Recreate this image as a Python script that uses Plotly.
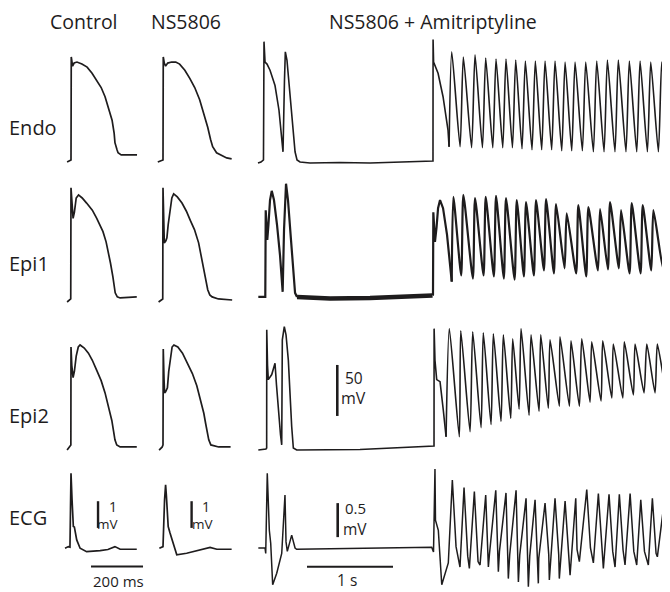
import plotly.graph_objects as go

# page body adds an 8px margin: figure is drawn 8px in from the window corner
OFF = 8
WIN_W, WIN_H = 670, 592
FW, FH = WIN_W - OFF, WIN_H - OFF
INK = "#1e1c1d"
FONT = "Open Sans"

# ---------------- DATA (time in ms from first upstroke, membrane potential in mV / ECG in mV) -------------
# Control
ctrl_endo_t = [-15, -4, 0, 1, 6, 12, 23, 42, 62, 81, 100, 116, 131, 146, 158, 166, 169, 177, 181, 193, 219, 254]
ctrl_endo_v = [-85, -84, -83, 18, 9, 12, 13, 11, 8, 2, -5, -12, -21, -34, -44, -57, -66, -73, -76, -78, -78, -78]
ctrl_epi1_t = [-15, -7, -1, 0, 3, 8, 13, 20, 29, 43, 60, 82, 99, 112, 123, 135, 142, 152, 161, 166, 170, 178, 189, 253]
ctrl_epi1_v = [-86, -84, -83, 26, 9, -4, 2, 16, 19, 16, 11, 4, -4, -11, -17, -27, -35, -48, -61, -71, -77, -81, -82, -81]
ctrl_epi2_t = [-15, -5, -0.5, 0, 3, 8, 13, 20, 28, 35, 51, 67, 82, 99, 116, 131, 144, 157, 164, 169, 176, 189, 253]
ctrl_epi2_v = [-86, -83, -81, 15, -3, -15, -9, 6, 15, 17, 14, 9, 2, -8, -18, -30, -44, -57, -68, -76, -81, -83, -83]
ctrl_ecg_t = [-23, -10, -4, 0, 4, 9, 13, 22, 35, 60, 112, 142, 169, 189, 253]
ctrl_ecg_mv = [0.03, 0.09, 0.07, 2.84, 1.85, 0.84, 0.82, 0.34, 0.03, -0.10, -0.06, -0.02, 0.09, -0.01, -0.01]

# NS5806
ns_endo_t = [-20, -5, 0, 1, 5, 10, 18, 33, 49, 64, 84, 103, 122, 141, 157, 172, 183, 191, 206, 226, 245, 264]
ns_endo_v = [-85, -84, -83, 18, 12, 9, 12, 13, 13, 11, 5, -3, -12, -24, -37, -51, -63, -70, -76, -79, -81, -82]
ns_epi1_t = [-17, -7, -1, 0, 2, 5, 11, 15, 20, 28, 34, 41, 55, 73, 90, 105, 121, 137, 147, 156, 165, 172, 180, 189, 213, 266]
ns_epi1_v = [-86, -84.5, -83, 26, -15, -28, -26, -23, -10, 4, 16, 20, 17, 11, 3, -6, -15, -28, -41, -52, -64, -74, -79, -81, -83, -84]
ns_epi2_t = [-15, -3, 0, 1, 4, 6, 10, 17, 22, 30, 35, 42, 57, 75, 91, 113, 130, 145, 157, 164, 171, 176, 184, 214, 260]
ns_epi2_v = [-86, -83, -81, 13, -17, -30, -29, -25, -9, 9, 15, 17, 15, 9, 1, -11, -23, -37, -50, -60, -70, -76, -81, -83, -83]
ns_ecg_t = [-14, 0, 6, 10, 13, 17, 20, 27, 40, 53, 91, 142, 181, 207, 264]
ns_ecg_mv = [0.03, 0.09, 1.84, 2.4, 2.0, 1.09, 0.84, 0.6, 0.21, -0.22, -0.16, -0.04, 0.06, -0.01, -0.01]

# NS5806 + Amitriptyline : first beats, pause and onset of the arrhythmia
ami_endo_t = [-70, -35, -6, 0, 12, 35, 70, 128, 174, 209, 221, 238, 248, 267, 302, 337, 361, 384, 419, 535, 884,
              1233, 1582, 1954, 1965, 1966, 1972, 2024, 2082, 2140, 2152]
ami_endo_v = [-86, -85, -83, 33, 13, 11, 5, -10, -34, -63, -75, -5, 23, 15, -19, -54, -75, -83, -85, -86, -85.5,
              -86, -85, -84.5, -84, 35, 13, 2, -21, -54, -70]
ami_endo_peak_t = [2183, 2318, 2454, 2578, 2698, 2814, 2927, 3039, 3155, 3268, 3384, 3501, 3617, 3741, 3869, 3993,
                   4120, 4248, 4373, 4497, 4625, 4745]
ami_endo_peak_v = [23, 18, 20, 17, 16, 16, 15, 14, 14, 14, 14, 13, 13, 13, 14, 15, 15, 14, 14, 13, 13, 13]
ami_endo_trough_t = [2280, 2414, 2540, 2660, 2776, 2889, 3000, 3116, 3229, 3345, 3462, 3578, 3702, 3830, 3954, 4081,
                     4209, 4334, 4458, 4586, 4706]
ami_endo_trough_v = [-70, -71, -71, -71, -71, -71, -72, -73, -73, -73, -74, -74, -74, -75, -75, -75, -75, -75, -75,
                     -75, -75]

ami_epi1_t = [-66, 15, 20, 27, 38, 52, 70, 90, 116, 151, 186, 217, 233, 256, 279, 314, 343, 361, 384]
ami_epi1_v = [-81, -81, 4, -17, -25, -10, 14, 23, 14, -10, -40, -76, -15, 30, 14, -25, -60, -77, -81]
ami_epi1_rest_t = [384, 768, 1233, 1582, 1960]
ami_epi1_rest_v = [-81, -82.5, -82, -81, -79.6]
ami_epi1_t2 = [1960, 1965, 1969, 1977, 1988, 2006, 2024, 2047, 2082, 2128, 2163, 2183]
ami_epi1_v2 = [-79.6, -79, 2, -17, -27, -13, 6, 14, 6, -20, -50, -66]
ami_epi1_peak_t = [2202, 2318, 2454, 2578, 2698, 2814, 2939, 3047, 3163, 3280, 3396, 3520, 3655, 3772, 3908, 4024,
                   4152, 4276, 4404, 4528, 4664]
ami_epi1_peak_v = [17, 19, 16, 17, 18, 16, 14, 12, 14, 15, 10, 1, 9, 7, 5, 12, 4, 11, 9, 4, 6]
ami_epi1_trough_t = [2293, 2429, 2553, 2673, 2789, 2914, 3022, 3138, 3255, 3371, 3495, 3630, 3747, 3883, 3999, 4127,
                     4251, 4379, 4503, 4639, 4750]
ami_epi1_trough_v = [-60, -63, -60, -61, -63, -64, -61, -60, -55, -58, -53, -58, -61, -55, -54, -53, -58, -58, -55,
                     -53, -55]

ami_epi2_t = [-66, 23, 31, 32, 41, 50, 90, 116, 128, 145, 166, 192, 206, 213, 236, 256, 283, 302, 322, 341, 380,
              1116, 1962, 1977, 1978, 1988, 2008, 2047, 2085, 2117]
ami_epi2_v = [-86, -85, -84, 32, -3, -17, -12, -4, -1, -22, -47, -71, -81, 22, 35, 27, 2, -32, -63, -84, -86,
              -85.5, -82, -82, 33, 2, -17, -19, -47, -73]
ami_epi2_peak_t = [2155, 2288, 2427, 2550, 2667, 2783, 2892, 2989, 3105, 3218, 3326, 3442, 3570, 3695, 3811, 3939,
                   4062, 4190, 4315, 4451, 4574, 4699]
ami_epi2_peak_v = [33, 31, 30, 29, 28, 27, 23, 33, 27, 27, 22, 25, 21, 23, 20, 21, 18, 20, 18, 18, 18, 16]
ami_epi2_trough_t = [2271, 2396, 2524, 2640, 2756, 2869, 2966, 3082, 3198, 3306, 3434, 3551, 3667, 3791, 3919, 4044,
                     4172, 4295, 4419, 4547, 4683]
ami_epi2_trough_v = [-73, -68, -64, -61, -58, -55, -46, -52, -48, -45, -43, -43, -43, -39, -38, -35, -35, -32, -30,
                     -30, -32]

ami_ecg_t = [-66, 12, 20, 38, 62, 78, 101, 148, 206, 244, 256, 271, 322, 361, 380, 1950, 1971, 1988, 1994, 2027,
             2067, 2105, 2143]
ami_ecg_mv = [0, 0, -0.08, 1.10, 0.26, 0.07, -0.54, -0.37, -0.08, 0.78, 0.09, -0.05, 0.19, 0, -0.02, 0.01, -0.06,
              1.16, 0.41, 0.26, -0.54, -0.37, -0.22]
ami_ecg_peak_t = [2190, 2326, 2446, 2578, 2695, 2814, 2931, 3047, 3152, 3268, 3384, 3501, 3625, 3753, 3888, 4012,
                  4132, 4257, 4381, 4516, 4644]
ami_ecg_peak_mv = [1.00, 0.89, 0.83, 0.78, 0.85, 0.81, 0.85, 0.73, 0.71, 0.66, 0.73, 0.69, 0.73, 0.86, 0.80, 0.79,
                   0.79, 0.80, 0.71, 0.73, 0.58]
ami_ecg_shoulder_t = [2233, 2369, 2489, 2621, 2738, 2857, 2974, 3090, 3195, 3311, 3427, 3544, 3640, 3796, 3931, 4055,
                      4175, 4300, 4424, 4559, 4687]
ami_ecg_shoulder_mv = [0.02, -0.12, -0.2, -0.1, -0.05, -0.1, -0.1, -0.12, -0.15, -0.1, -0.1, -0.12, -0.02, 0.0,
                       -0.05, -0.05, -0.03, -0.05, -0.05, -0.08, -0.05]
ami_ecg_trough_t = [2279, 2388, 2512, 2609, 2725, 2841, 2958, 3074, 3190, 3318, 3434, 3559, 3667, 3830, 3946, 4082,
                    4198, 4334, 4469, 4574, 4714]
ami_ecg_trough_mv = [-0.28, -0.30, -0.25, -0.28, -0.35, -0.45, -0.50, -0.57, -0.52, -0.47, -0.45, -0.40, -0.20,
                     -0.22, -0.30, -0.28, -0.25, -0.25, -0.25, -0.13, -0.22]

# labels
col_titles = ["Control", "NS5806", "NS5806 + Amitriptyline"]
row_titles = ["Endo", "Epi1", "Epi2", "ECG"]

# scale bars (data units of the panel they belong to)
bar_ms = 200          # Control ECG panel
bar_s_ms = 1000       # Amitriptyline ECG panel ("1 s")
bar_mv_ap = 50        # Amitriptyline Epi2 panel
bar_mv_ecg = 1.0      # Control / NS5806 ECG panels
bar_mv_ecg3 = 0.5     # Amitriptyline ECG panel

# ---------------- GEOMETRY (reference-window pixels) ----------------
MS_PER_PX_12 = 200 / 52
MS_PER_PX_3 = 1000 / 86
COLS = [dict(left=52, right=150, x0=71, mpp=MS_PER_PX_12),
        dict(left=146, right=244, x0=163, mpp=MS_PER_PX_12),
        dict(left=250, right=670, x0=264, mpp=MS_PER_PX_3)]
ROWS = [dict(top=28, bottom=176, ref_px=162, ref_v=-85, ppu=1.02),
        dict(top=176, bottom=318, ref_px=301, ref_v=-85, ppu=1.02),
        dict(top=318, bottom=462, ref_px=449, ref_v=-85, ppu=1.02),
        dict(top=455, bottom=592, ref_px=549, ref_v=0, ppu=26.7)]
ECG3 = dict(top=455, bottom=592, ref_px=548, ref_v=0, ppu=68)


def fx(px):
    return (px - OFF) / FW


def fy(py):
    return 1 - (py - OFF) / FH


def interleave(*pairs):
    """merge several (t, v) point lists into a single time-ordered trace"""
    pts = []
    for t, v in pairs:
        pts += list(zip(t, v))
    pts.sort(key=lambda p: p[0])
    return [p[0] for p in pts], [p[1] for p in pts]


fig = go.Figure()
layout = dict(width=FW, height=FH, margin=dict(l=0, r=0, t=0, b=0), paper_bgcolor="white",
              plot_bgcolor="rgba(0,0,0,0)", showlegend=False,
              font=dict(family=FONT, color=INK))

axis_count = [0]


def add_axes(col, row):
    axis_count[0] += 1
    n = axis_count[0]
    sfx = "" if n == 1 else str(n)
    c = COLS[col]
    xr = [(c["left"] - c["x0"]) * c["mpp"], (c["right"] - c["x0"]) * c["mpp"]]
    yr = [row["ref_v"] + (row["ref_px"] - row["bottom"]) / row["ppu"],
          row["ref_v"] + (row["ref_px"] - row["top"]) / row["ppu"]]
    layout["xaxis" + sfx] = dict(domain=[fx(c["left"]), min(1, fx(c["right"]))], range=xr, visible=False,
                                 fixedrange=True)
    layout["yaxis" + sfx] = dict(domain=[max(0, fy(row["bottom"])), fy(row["top"])], range=yr, visible=False,
                                 fixedrange=True)
    return "x" + sfx, "y" + sfx


def line(t, v, xa, ya, width=1.6, shape="linear"):
    fig.add_trace(go.Scatter(x=t, y=v, mode="lines", xaxis=xa, yaxis=ya, hoverinfo="skip",
                             line=dict(color=INK, width=width, shape=shape, smoothing=0.6)))


# Column 1 & 2
col12 = [
    [(ctrl_endo_t, ctrl_endo_v), (ctrl_epi1_t, ctrl_epi1_v), (ctrl_epi2_t, ctrl_epi2_v), (ctrl_ecg_t, ctrl_ecg_mv)],
    [(ns_endo_t, ns_endo_v), (ns_epi1_t, ns_epi1_v), (ns_epi2_t, ns_epi2_v), (ns_ecg_t, ns_ecg_mv)],
]
ecg_axes = []
for ci in range(2):
    for ri in range(4):
        xa, ya = add_axes(ci, ROWS[ri])
        t, v = col12[ci][ri]
        line(t, v, xa, ya, width=1.7)
        if ri == 3:
            ecg_axes.append((xa, ya))

# Column 3
xa, ya = add_axes(2, ROWS[0])
line(ami_endo_t, ami_endo_v, xa, ya)
ot, ov = interleave(([ami_endo_t[-1]], [ami_endo_v[-1]]), (ami_endo_peak_t, ami_endo_peak_v),
                    (ami_endo_trough_t, ami_endo_trough_v))
line(ot, ov, xa, ya, shape="spline")

xa, ya = add_axes(2, ROWS[1])
line(ami_epi1_t, ami_epi1_v, xa, ya, width=2.2)
line(ami_epi1_rest_t, ami_epi1_rest_v, xa, ya, width=4.5)
line(ami_epi1_t2, ami_epi1_v2, xa, ya, width=2.2)
ot, ov = interleave(([ami_epi1_t2[-1]], [ami_epi1_v2[-1]]), (ami_epi1_peak_t, ami_epi1_peak_v),
                    (ami_epi1_trough_t, ami_epi1_trough_v))
line(ot, ov, xa, ya, width=2.2, shape="spline")

xa, ya = add_axes(2, ROWS[2])
line(ami_epi2_t, ami_epi2_v, xa, ya)
ot, ov = interleave(([ami_epi2_t[-1]], [ami_epi2_v[-1]]), (ami_epi2_peak_t, ami_epi2_peak_v),
                    (ami_epi2_trough_t, ami_epi2_trough_v))
line(ot, ov, xa, ya, shape="spline")
epi2_axes3 = (xa, ya)

xa, ya = add_axes(2, ECG3)
ot, ov = interleave((ami_ecg_t, ami_ecg_mv), (ami_ecg_peak_t, ami_ecg_peak_mv),
                    (ami_ecg_shoulder_t, ami_ecg_shoulder_mv), (ami_ecg_trough_t, ami_ecg_trough_mv))
line(ot, ov, xa, ya, width=1.5)
ecg_axes3 = (xa, ya)


# ---------------- scale bars ----------------
def bar(x, y, axes, width):
    fig.add_trace(go.Scatter(x=x, y=y, mode="lines", xaxis=axes[0], yaxis=axes[1], hoverinfo="skip",
                             line=dict(color=INK, width=width)))


bar([104, 104], [0.79, 0.79 + bar_mv_ecg], ecg_axes[0], 2.4)
bar([110, 110], [0.79, 0.79 + bar_mv_ecg], ecg_axes[1], 2.4)
bar([77, 77 + bar_ms], [-0.66, -0.66], ecg_axes[0], 2.0)
bar([852, 852], [-52.6, -52.6 + bar_mv_ap], epi2_axes3, 2.6)
bar([857, 857], [0.16, 0.16 + bar_mv_ecg3], ecg_axes3, 2.6)
bar([500, 500 + bar_s_ms], [-0.275, -0.275], ecg_axes3, 2.0)

# ---------------- text ----------------
ann = []


def txt(s, x, y, size, anchor="center"):
    ann.append(dict(text=s, x=fx(x), y=fy(y), xref="paper", yref="paper", showarrow=False,
                    xanchor=anchor, yanchor="middle", borderpad=0,
                    font=dict(size=size, family=FONT, color=INK)))


txt(col_titles[0], 83.5, 21, 19.5)
txt(col_titles[1], 186, 21, 19.5)
txt(col_titles[2], 433, 21, 19.5)
for name, y in zip(row_titles, [128, 263, 415, 517]):
    txt(name, 8, y, 20, anchor="left")
txt("1", 112.5, 506, 14)
txt("mV", 107, 524, 13.5)
txt("1", 206.5, 506, 14)
txt("mV", 202.5, 524, 13.5)
txt("200 ms", 118, 581, 15)
txt("50", 354, 378, 15.5)
txt("mV", 353.5, 398, 16)
txt("0.5", 355, 508, 15)
txt("mV", 354.5, 529, 15.5)
txt("1 s", 347, 580, 15.5)

layout["annotations"] = ann
fig.update_layout(**layout)
fig.write_html("out.html")
